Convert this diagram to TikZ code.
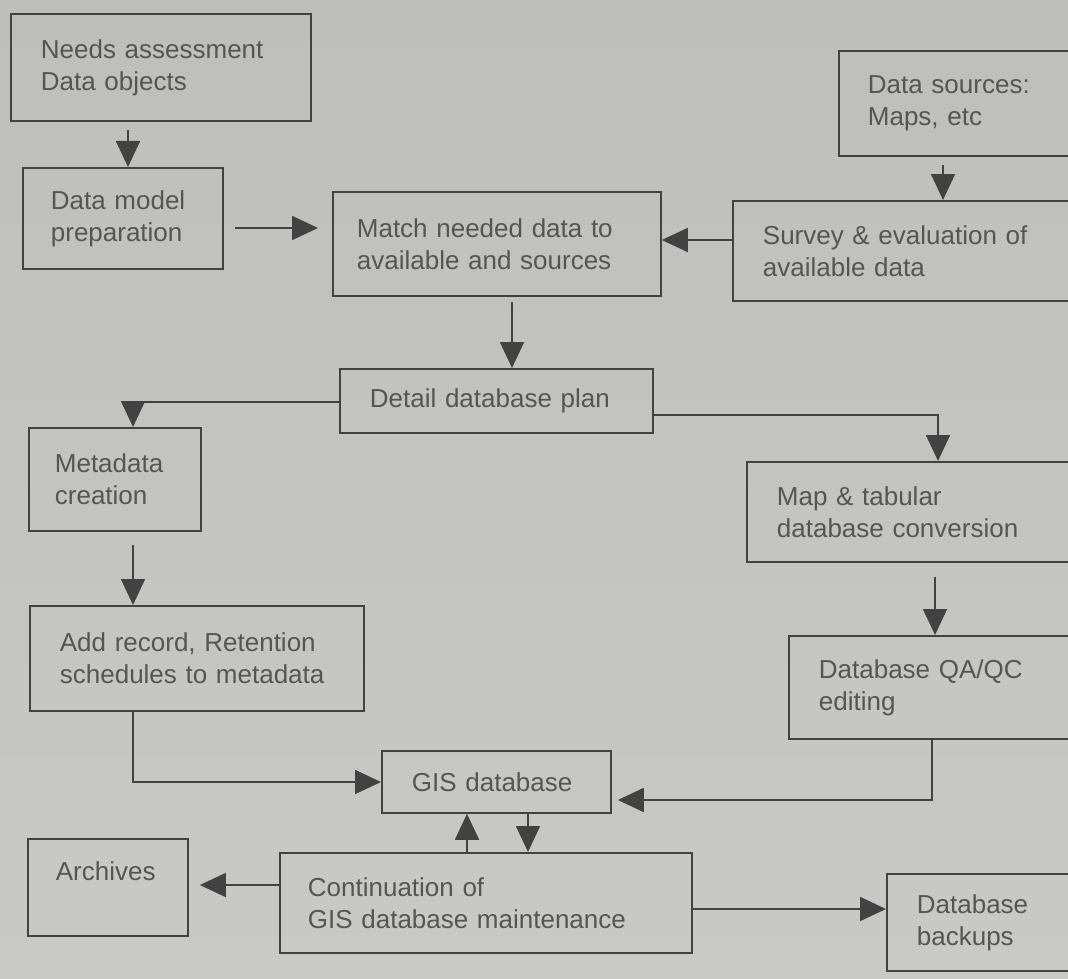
\documentclass[tikz,border=0pt]{standalone}
\usepackage{fontspec}
\setmainfont{Liberation Sans}
\usepackage{tikz}
\usetikzlibrary{arrows.meta}
\definecolor{paper}{HTML}{BEBEBC}
\definecolor{paperlight}{HTML}{C9C9C7}
\definecolor{ink}{HTML}{424242}
\definecolor{inktext}{HTML}{555555}

\begin{document}
\begin{tikzpicture}[x=1pt,y=-1pt,
    stage/.style={draw=ink, line width=1.8pt, anchor=north west, align=left,
        inner xsep=30pt, inner ysep=0pt, text=inktext,
        font=\fontsize{26}{32}\selectfont},
    flow/.style={draw=ink, line width=1.8pt,
        -{Triangle[length=26pt,width=24pt]}}]

    \useasboundingbox (0,0) rectangle (1068,979);
    \clip (0,0) rectangle (1068,979);
    \shade[top color=paper, bottom color=paperlight] (0,0) rectangle (1068,979);

    \node[stage, text width=240pt, minimum height=107pt] (needs) at (10,13)
        {Needs assessment\\Data objects};
    \node[stage, text width=194pt, minimum height=105pt, inner xsep=29pt] (sources) at (838,50)
        {Data sources:\\Maps, etc};
    \node[stage, text width=144pt, minimum height=101pt, inner xsep=28pt] (dmodel) at (22,167)
        {Data model\\preparation};
    \node[stage, text width=280pt, minimum height=104pt, inner xsep=24pt] (match) at (332,191)
        {Match needed data to\\available and sources};
    \node[stage, text width=298pt, minimum height=100pt] (survey) at (732,200)
        {Survey \& evaluation of\\available data};
    \node[stage, text width=253pt, minimum height=64pt] (detail) at (339,368)
        {Detail database plan};
    \node[stage, text width=120pt, minimum height=103pt, inner xsep=26pt] (meta) at (28,427)
        {Metadata\\creation};
    \node[stage, text width=294pt, minimum height=100pt] (conv) at (746,461)
        {Map \& tabular\\database conversion};
    \node[stage, text width=274pt, minimum height=105pt] (record) at (29,605)
        {Add record, Retention\\schedules to metadata};
    \node[stage, text width=250pt, minimum height=103pt] (qaqc) at (788,635)
        {Database QA/QC\\editing};
    \node[stage, text width=169pt, minimum height=62pt] (gis) at (381,750)
        {GIS database};
    \node[stage, text width=104pt, minimum height=97pt, inner xsep=28pt] (archive) at (27,838)
        {Archives\\\mbox{}};
    \node[stage, text width=356pt, minimum height=100pt, inner xsep=28pt] (maint) at (279,852)
        {Continuation of\\GIS database maintenance};
    \node[stage, text width=150pt, minimum height=97pt] (backup) at (886,873)
        {Database\\backups};

    \draw[flow, shorten <=8pt] (needs.south -| 128,0) -- (dmodel.north -| 128,0);
    \draw[flow, shorten <=8pt] (sources.south -| 943,0) -- (survey.north -| 943,0);
    \draw[flow, shorten <=11pt, shorten >=14pt] (dmodel.east |- 0,228) -- (match.west |- 0,228);
    \draw[flow] (survey.west |- 0,240) -- (match.east |- 0,240);
    \draw[flow, shorten <=5pt] (match.south -| 512,0) -- (detail.north -| 512,0);
    \draw[flow] (detail.west |- 0,402) -| (meta.north -| 133,0);
    \draw[flow] (detail.east |- 0,415) -| (conv.north -| 938,0);
    \draw[flow, shorten <=13pt] (meta.south -| 133,0) -- (record.north -| 133,0);
    \draw[flow, shorten <=14pt] (conv.south -| 935,0) -- (qaqc.north -| 935,0);
    \draw[flow] (record.south -| 133,0) |- (gis.west |- 0,782);
    \draw[flow, shorten >=6pt] (qaqc.south -| 932,0) |- (gis.east |- 0,800);
    \draw[flow] (maint.north -| 467,0) -- (gis.south -| 467,0);
    \draw[flow] (gis.south -| 528,0) -- (maint.north -| 528,0);
    \draw[flow, shorten >=11pt] (maint.west |- 0,885) -- (archive.east |- 0,885);
    \draw[flow] (maint.east |- 0,909) -- (backup.west |- 0,909);

\end{tikzpicture}
\end{document}
